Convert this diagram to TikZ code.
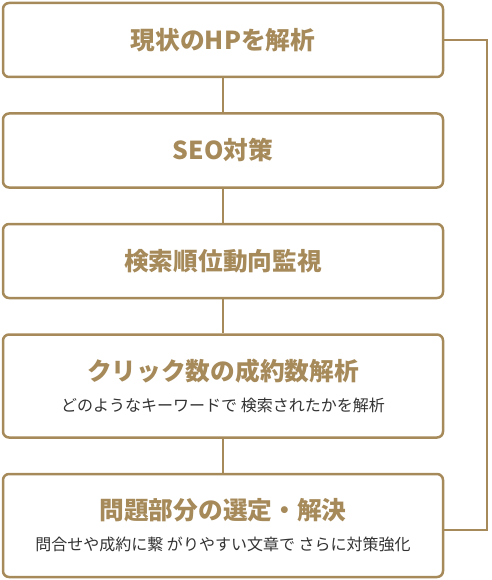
\documentclass[tikz,border=0pt]{standalone}
\usepackage{fontspec}
\newfontfamily\jpfont{Noto Sans CJK JP}
\definecolor{BrandGold}{HTML}{A68A5A}
\definecolor{TextGray}{HTML}{333333}
\usetikzlibrary{positioning}
\tikzset{
  % Box styles
  stepbox/.style={rectangle, rounded corners=6pt, draw=BrandGold, line width=2.5pt, fill=white, minimum width=440pt, minimum height=74pt, align=center, text=BrandGold, font=\jpfont\bfseries\fontsize{24.7}{29}\selectfont},
  tallbox/.style={stepbox, minimum height=103pt},
  % Line styles
  link/.style={BrandGold, line width=2.5pt}
}
\newcommand{\subline}[1]{{\normalfont\jpfont\fontsize{16}{19}\selectfont\color{TextGray}#1}}

\begin{document}
\begin{tikzpicture}[x=1pt, y=1pt]
  \useasboundingbox (0,0) rectangle (491,-580);

  % Flow of steps
  \node[stepbox] (analyse) at (223,-40) {現状のHPを解析};
  \node[stepbox, below=34pt of analyse] (seo) {SEO対策};
  \node[stepbox, below=34pt of seo] (rank) {検索順位動向監視};
  \node[tallbox, below=34pt of rank] (click) {クリック数の成約数解析\\[2pt]\subline{どのようなキーワードで 検索されたかを解析}};
  \node[tallbox, below=34pt of click] (solve) {問題部分の選定・解決\\[2pt]\subline{問合せや成約に繋 がりやすい文章で さらに対策強化}};

  \draw[link] (analyse) -- (seo);
  \draw[link] (seo) -- (rank);
  \draw[link] (rank) -- (click);
  \draw[link] (click) -- (solve);

  % Loop back
  \coordinate (back) at (487,-530);
  \draw[link] (analyse.east) -| (back) -- (solve.east |- back);
\end{tikzpicture}
\end{document}
